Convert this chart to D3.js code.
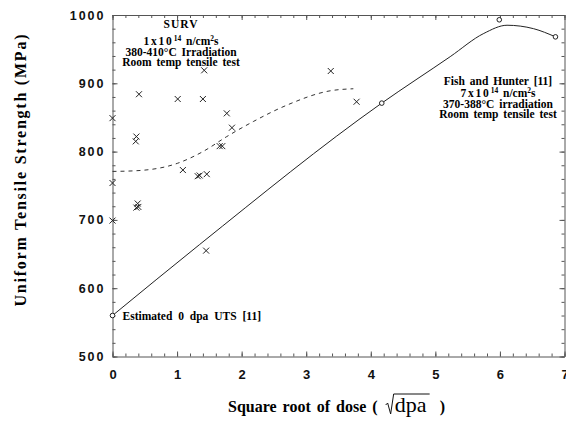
<!DOCTYPE html>
<html>
<head>
<meta charset="utf-8">
<script src="https://cdn.jsdelivr.net/npm/d3@7"></script>
<style>
  html, body { margin: 0; padding: 0; background: #fff; }
  svg { display: block; font-family: "Liberation Serif", "DejaVu Serif", serif; }
  .tick text { font-weight: bold; fill: #111; }
</style>
</head>
<body>
<div id="chart"></div>
<script>
// SURV data (crosses)
const survX = [0, 0, 0.41, 0.37, 0.36, 1.01, 1.42, 1.40, 1.77, 1.85, 1.66, 1.70, 1.09, 1.32, 1.35, 1.46, 3.38, 3.78, 0.39, 0.37, 0.40, 0, 1.45];
const survY = [849, 754, 884, 822, 815, 877, 919, 877, 856, 835, 808, 808, 773, 764, 765, 767, 918, 873, 724, 718, 719, 699, 655];

// dashed fit through SURV data
const fitX = [0, 0.37, 1.01, 1.40, 1.77, 2.18, 2.70, 3.37, 3.73];
const fitY = [771, 772, 783, 800, 822, 844, 868, 889, 892];

// Fish and Hunter data (circles)
const fishX = [0, 4.17, 5.99, 6.86];
const fishY = [560, 871, 993, 968];

// solid line for Fish and Hunter
const fishLineX = [0, 1.35, 4.17, 5.23, 5.75, 6.11, 6.52, 6.86];
const fishLineY = [560, 664, 871, 939, 973, 985, 980, 968];

const xTicks = [0, 1, 2, 3, 4, 5, 6, 7];
const yTicks = [500, 600, 700, 800, 900, 1000];
const xMinor = d3.range(0, 7.01, 0.2);
const yMinor = d3.range(500, 1001, 20);

const width = 566, height = 422;
const mLeft = 112.5, mRight = 564.5, mTop = 15, mBottom = 356.5;

const svg = d3.select('#chart').append('svg')
  .attr('width', width)
  .attr('height', height);

const x = d3.scaleLinear().domain([0, 7]).range([mLeft, mRight]);
const y = d3.scaleLinear().domain([500, 1000]).range([mBottom, mTop]);

const axisColor = '#555';

// major axes, ticks pointing inwards
const gBottom = svg.append('g')
  .attr('transform', `translate(0,${mBottom})`)
  .call(d3.axisBottom(x).tickValues(xTicks).tickFormat(d3.format('d'))
    .tickSizeInner(-5).tickSizeOuter(0).tickPadding(13));
gBottom.selectAll('text').style('font-size', '13px');

const gLeft = svg.append('g')
  .attr('transform', `translate(${mLeft},0)`)
  .call(d3.axisLeft(y).tickValues(yTicks).tickFormat(d3.format('d'))
    .tickSizeInner(-5).tickSizeOuter(0).tickPadding(7));
gLeft.selectAll('text').style('font-size', '12.5px').style('letter-spacing', '2px');

svg.append('g')
  .attr('transform', `translate(0,${mTop})`)
  .call(d3.axisTop(x).tickValues(xTicks).tickFormat('')
    .tickSizeInner(-5).tickSizeOuter(0));

svg.append('g')
  .attr('transform', `translate(${mRight},0)`)
  .call(d3.axisRight(y).tickValues(yTicks).tickFormat('')
    .tickSizeInner(-5).tickSizeOuter(0));

// minor ticks
const minor = [
  [d3.axisBottom(x).tickValues(xMinor), `translate(0,${mBottom})`],
  [d3.axisTop(x).tickValues(xMinor), `translate(0,${mTop})`],
  [d3.axisLeft(y).tickValues(yMinor), `translate(${mLeft},0)`],
  [d3.axisRight(y).tickValues(yMinor), `translate(${mRight},0)`]
];
minor.forEach(([ax, tr]) => {
  const g = svg.append('g').attr('transform', tr)
    .call(ax.tickFormat('').tickSizeInner(-3).tickSizeOuter(0));
  g.select('.domain').remove();
});

svg.selectAll('.domain, .tick line')
  .attr('stroke', axisColor)
  .attr('stroke-width', 1);

// Fish and Hunter solid line
const fishLine = d3.line()
  .x(d => x(d[0]))
  .y(d => y(d[1]))
  .curve(d3.curveMonotoneX);

svg.append('path')
  .datum(fishLineX.map((v, i) => [v, fishLineY[i]]))
  .attr('fill', 'none')
  .attr('stroke', '#222')
  .attr('stroke-width', 1)
  .attr('d', fishLine);

// dashed fit line
const fitLine = d3.line()
  .x(d => x(d[0]))
  .y(d => y(d[1]))
  .curve(d3.curveMonotoneX);

svg.append('path')
  .datum(fitX.map((v, i) => [v, fitY[i]]))
  .attr('fill', 'none')
  .attr('stroke', '#333')
  .attr('stroke-width', 1)
  .attr('stroke-dasharray', '4,4')
  .attr('d', fitLine);

// crosses
const s = 3;
svg.selectAll('.cross')
  .data(survX.map((v, i) => [v, survY[i]]))
  .enter()
  .append('path')
  .attr('class', 'cross')
  .attr('d', d => {
    const cx = x(d[0]), cy = y(d[1]);
    return `M${cx - s},${cy - s}L${cx + s},${cy + s}M${cx - s},${cy + s}L${cx + s},${cy - s}`;
  })
  .attr('stroke', '#222')
  .attr('stroke-width', 1)
  .attr('fill', 'none');

// circles
svg.selectAll('.pt')
  .data(fishX.map((v, i) => [v, fishY[i]]))
  .enter()
  .append('circle')
  .attr('class', 'pt')
  .attr('cx', d => x(d[0]))
  .attr('cy', d => y(d[1]))
  .attr('r', 2.3)
  .attr('fill', '#fff')
  .attr('stroke', '#222')
  .attr('stroke-width', 1);

// text block helper
function addBlock(cx, lines) {
  lines.forEach(l => {
    const t = svg.append('text')
      .attr('x', cx)
      .attr('y', l.y)
      .attr('text-anchor', 'middle')
      .style('font-size', '11.5px')
      .style('font-weight', 'bold')
      .style('word-spacing', '2px')
      .style('letter-spacing', l.ls || '0px');
    l.parts.forEach(p => {
      const ts = t.append('tspan').text(p.t);
      if (p.ls) ts.style('letter-spacing', p.ls);
      if (p.sup) ts.attr('dy', '-4').style('font-size', '7.5px');
      if (p.back) ts.attr('dy', '4');
    });
  });
}

addBlock(181, [
  { y: 27.5, parts: [{ t: 'SURV' }], ls: '1px' },
  { y: 45, parts: [{ t: '1x10', ls: '1.8px' }, { t: '14', sup: true }, { t: ' n/cm', back: true }, { t: '2', sup: true }, { t: 's', back: true }] },
  { y: 55.5, parts: [{ t: '380-410°C  Irradiation' }] },
  { y: 66, parts: [{ t: 'Room temp tensile test' }] }
]);

addBlock(498, [
  { y: 85, parts: [{ t: 'Fish and Hunter [11]' }] },
  { y: 97, parts: [{ t: '7x10', ls: '1.8px' }, { t: '14', sup: true }, { t: ' n/cm', back: true }, { t: '2', sup: true }, { t: 's', back: true }] },
  { y: 107.5, parts: [{ t: '370-388°C irradiation' }] },
  { y: 118, parts: [{ t: 'Room temp tensile test' }] }
]);

svg.append('text')
  .attr('x', x(0) + 10)
  .attr('y', y(560) + 4)
  .style('font-size', '11.5px')
  .style('font-weight', 'bold')
  .style('word-spacing', '3px')
  .text('Estimated 0 dpa UTS [11]');

// y axis title
svg.append('text')
  .attr('transform', `translate(26,${(33 + 308) / 2}) rotate(-90)`)
  .attr('text-anchor', 'middle')
  .attr('textLength', 272)
  .style('font-size', '16px')
  .style('font-weight', 'bold')
  .text('Uniform Tensile Strength (MPa)');

// x axis title
const xt = svg.append('text')
  .attr('x', 228)
  .attr('y', 412)
  .style('font-size', '16px')
  .style('font-weight', 'bold')
  .style('word-spacing', '2px')
  .text('Square root of dose (');
const xtEnd = 228 + xt.node().getComputedTextLength();

const rx = xtEnd + 8;
svg.append('path')
  .attr('d', `M${rx},${405}L${rx + 2},${403}L${rx + 5},${414}L${rx + 8},${394}L${rx + 44},${394}`)
  .attr('fill', 'none')
  .attr('stroke', '#111')
  .attr('stroke-width', 1);

svg.append('text')
  .attr('x', rx + 9)
  .attr('y', 412)
  .style('font-size', '22px')
  .text('dpa');

svg.append('text')
  .attr('x', rx + 54)
  .attr('y', 412)
  .style('font-size', '16px')
  .style('font-weight', 'bold')
  .text(')');
</script>
</body>
</html>
